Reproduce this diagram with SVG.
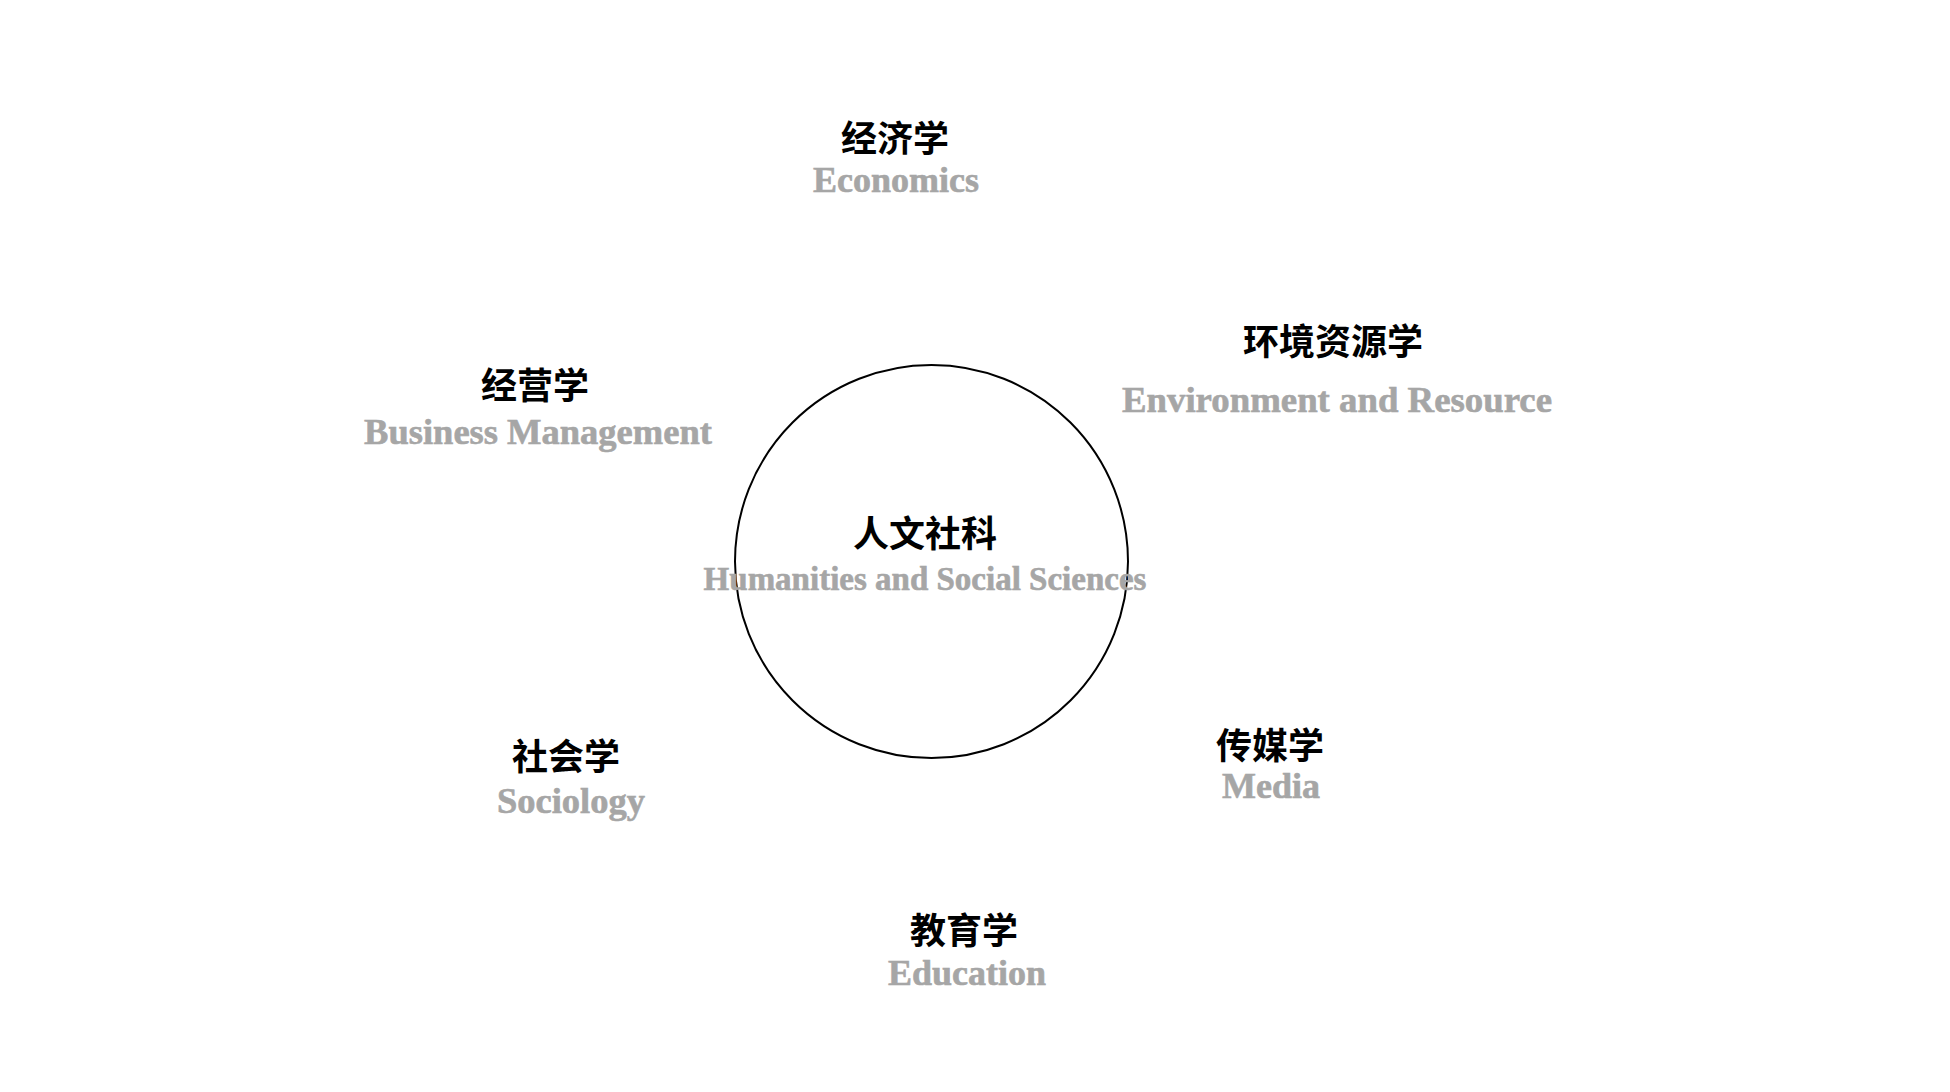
<svg xmlns="http://www.w3.org/2000/svg" width="1950" height="1092" viewBox="0 0 1950 1092">
<style>
.zh{font-family:"Noto Sans CJK SC","Noto Sans",sans-serif;font-weight:bold;font-size:36px;fill:#000;text-anchor:middle}
.en{font-family:"Liberation Serif","Times New Roman",serif;font-weight:bold;font-size:36px;fill:#a6a6a6;stroke:#a6a6a6;stroke-width:0.6;text-anchor:middle}
.en33{font-size:33px}
</style>
<rect width="1950" height="1092" fill="#fff"/>
<g id="connectors"></g>
<g id="center">
<circle cx="931.5" cy="561.5" r="196.5" fill="none" stroke="#000" stroke-width="2"/>
<text class="zh" x="925" y="547">人文社科</text>
<text class="en en33" x="925" y="590">Humanities and Social Sciences</text>
</g>
<g id="economics">
<text class="zh" x="895" y="152">经济学</text>
<text class="en" x="896" y="192">Economics</text>
</g>
<g id="environment">
<text class="zh" x="1333" y="355">环境资源学</text>
<text class="en" x="1337" y="412" style="font-size:36.8px">Environment and Resource</text>
</g>
<g id="business">
<text class="zh" x="535" y="399">经营学</text>
<text class="en" x="538" y="444" style="font-size:36.5px">Business Management</text>
</g>
<g id="sociology">
<text class="zh" x="566" y="770">社会学</text>
<text class="en" x="571" y="813" style="font-size:36.5px">Sociology</text>
</g>
<g id="media">
<text class="zh" x="1270" y="759">传媒学</text>
<text class="en" x="1271" y="798">Media</text>
</g>
<g id="education">
<text class="zh" x="964" y="944">教育学</text>
<text class="en" x="967" y="985">Education</text>
</g>
</svg>
